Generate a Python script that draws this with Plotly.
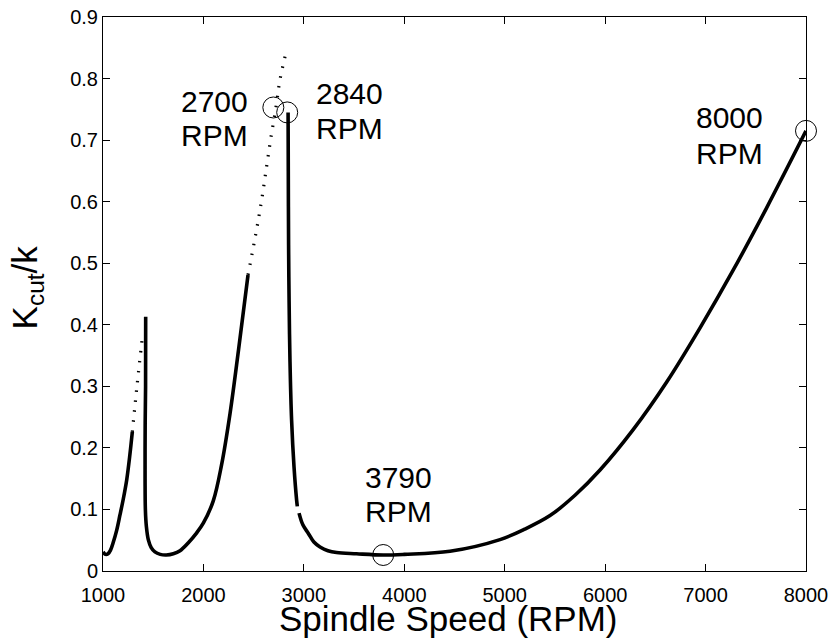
import plotly.graph_objects as go

# ---- data ----
lobe1_rpm = [1000, 1025, 1050, 1075, 1103, 1136, 1169, 1202, 1236, 1265, 1292]
lobe1_k = [0.031, 0.027, 0.028, 0.034, 0.047, 0.066, 0.091, 0.117, 0.148, 0.185, 0.226]

lobe1_dot_rpm = [1292, 1340, 1395]
lobe1_dot_k = [0.226, 0.303, 0.384]

lobe2_rpm = [1425, 1424, 1420, 1419, 1422, 1432, 1451, 1480, 1517, 1570, 1630,
             1700, 1767, 1850, 1933, 2000, 2098, 2180, 2265, 2350, 2444]
lobe2_k = [0.413, 0.30, 0.24, 0.15, 0.10, 0.072, 0.051, 0.038, 0.031, 0.027, 0.026,
           0.028, 0.033, 0.046, 0.062, 0.078, 0.114, 0.172, 0.256, 0.360, 0.481]

lobe2_dot_rpm = [2444, 2523, 2580, 2629, 2673, 2723, 2762, 2828]
lobe2_dot_k = [0.481, 0.549, 0.603, 0.657, 0.705, 0.754, 0.798, 0.846]

lobe3a_rpm = [2843, 2845, 2848, 2853, 2862, 2878, 2902, 2928, 2935]
lobe3a_k = [0.745, 0.65, 0.53, 0.44, 0.34, 0.245, 0.169, 0.115, 0.105]

lobe3b_rpm = [2952, 2990, 3045, 3100, 3161, 3240, 3326, 3525, 3790, 4000, 4455,
              4953, 5200, 5451, 5700, 5949, 6281, 6613, 6945, 7276, 7608, 8000]
lobe3b_k = [0.094, 0.075, 0.061, 0.047, 0.039, 0.033, 0.030, 0.028, 0.026, 0.027, 0.032,
            0.051, 0.068, 0.090, 0.123, 0.164, 0.230, 0.307, 0.395, 0.489, 0.590, 0.715]

marker_rpm = [2696, 2834, 3790, 8000]
marker_k = [0.753, 0.745, 0.026, 0.715]

label_numbers = ["2700", "2840", "3790", "8000"]
label_num_pos_rpm = [2110, 3454, 3940, 7243]
label_num_pos_k = [0.762, 0.775, 0.152, 0.736]
label_rpm_pos_k = [0.708, 0.719, 0.096, 0.678]

x_ticks = [1000, 2000, 3000, 4000, 5000, 6000, 7000, 8000]
y_ticks = [0, 0.1, 0.2, 0.3, 0.4, 0.5, 0.6, 0.7, 0.8, 0.9]

x_title = "Spindle Speed (RPM)"
y_title = "K<sub>cut</sub>/k"

FONT = "Liberation Sans, Arial, sans-serif"

fig = go.Figure()

solid = dict(color="black", width=3.6, shape="spline", smoothing=1.0)
dotted = dict(color="black", width=3.2, dash="1.5px,8.5px", shape="spline", smoothing=1.0)

for xs, ys, style in [
    (lobe1_rpm, lobe1_k, solid),
    (lobe1_dot_rpm, lobe1_dot_k, dotted),
    (lobe2_rpm, lobe2_k, solid),
    (lobe2_dot_rpm, lobe2_dot_k, dotted),
    (lobe3a_rpm, lobe3a_k, solid),
    (lobe3b_rpm, lobe3b_k, solid),
]:
    fig.add_trace(go.Scatter(x=xs, y=ys, mode="lines", line=style,
                             showlegend=False, hoverinfo="skip"))

fig.add_trace(go.Scatter(
    x=marker_rpm, y=marker_k, mode="markers",
    marker=dict(symbol="circle-open", size=21, color="black", line=dict(width=1, color="black")),
    showlegend=False, cliponaxis=False, hoverinfo="skip"))

for num, xr, yn, yr in zip(label_numbers, label_num_pos_rpm, label_num_pos_k, label_rpm_pos_k):
    fig.add_annotation(x=xr, y=yn, text=num, showarrow=False, xanchor="center", yanchor="middle",
                       font=dict(family=FONT, size=30, color="black"))
    fig.add_annotation(x=xr, y=yr, text="RPM", showarrow=False, xanchor="center", yanchor="middle",
                       font=dict(family=FONT, size=30, color="black"))

# axis titles placed as annotations for exact positioning
fig.add_annotation(xref="paper", yref="paper", x=0.492, y=-0.085, text=x_title,
                   showarrow=False, xanchor="center", yanchor="middle",
                   font=dict(family=FONT, size=35, color="black"))
fig.add_annotation(xref="paper", yref="paper", x=-0.108, y=0.512, text=y_title,
                   showarrow=False, xanchor="center", yanchor="middle", textangle=-90,
                   font=dict(family=FONT, size=35, color="black"))

axis_common = dict(
    showline=True, linecolor="black", linewidth=1, mirror="ticks",
    ticks="inside", ticklen=7, tickwidth=1, tickcolor="black",
    showgrid=False, zeroline=False, automargin=False,
    tickfont=dict(family=FONT, size=20, color="black"),
)

fig.update_xaxes(range=[1000, 8000], tickvals=x_ticks, ticklabelstandoff=6, **axis_common)
fig.update_yaxes(range=[0, 0.9], tickvals=y_ticks, **axis_common)

fig.update_layout(
    width=833, height=641, autosize=False,
    margin=dict(l=103, r=27, t=17, b=70),
    paper_bgcolor="white", plot_bgcolor="white",
    font=dict(family=FONT, color="black"),
)

fig.write_html("out.html", config={"displayModeBar": False},
               post_script="document.body.style.margin='0px';document.body.style.overflow='hidden';")
